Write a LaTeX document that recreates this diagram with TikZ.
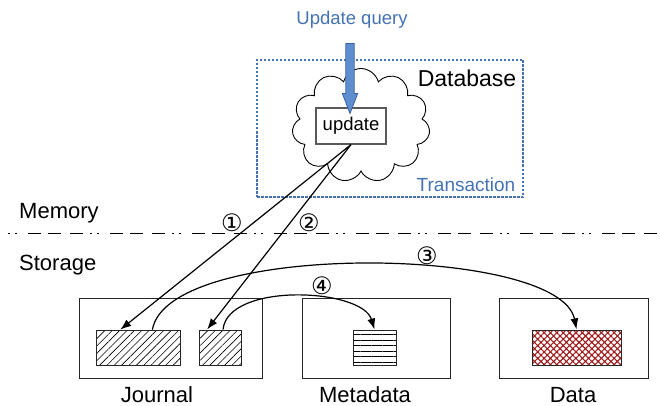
\documentclass[tikz,border=0pt]{standalone}
\usepackage{fontspec}
\setmainfont{Liberation Sans}
\newfontfamily\circfont{DejaVu Sans}
\usetikzlibrary{shapes.symbols, shapes.arrows, patterns.meta, arrows.meta, calc}
\definecolor{qblue}{RGB}{68,114,180}
\definecolor{afill}{RGB}{94,142,208}
\definecolor{aedge}{RGB}{58,98,158}
\definecolor{hred}{RGB}{160,28,28}
\tikzset{
  box/.style={draw=black!85, line width=1pt, inner sep=0pt},
  inbox/.style={box, minimum height=35pt},
  lbl/.style={font=\fontsize{22}{26}\selectfont, anchor=base, inner sep=0pt},
  num/.style={font=\circfont\fontsize{24}{28}\selectfont, inner sep=0pt},
  flow/.style={line width=1.2pt, -{Latex[length=11pt, width=8pt]}},
}

\begin{document}
\begin{tikzpicture}[x=1pt, y=-1pt]
                        \useasboundingbox (0,0) rectangle (660,406);
                        % Memory side:
                        \node[draw=qblue, dash pattern=on 2.5pt off 1.5pt, line width=1.3pt, minimum width=266pt, minimum height=137pt] (db) at (390,128.5) {};
                        \node[cloud, draw, line width=0.9pt, cloud puffs=11, aspect=1.2, minimum width=138pt, minimum height=114pt, inner sep=0pt] (cloud) at (361,125.5) {};
                        \node[font=\fontsize{23}{27}\selectfont] (dbl) at (467,78) {Database};
                        \node[font=\fontsize{19}{22}\selectfont, text=qblue] (tr) at (466,185) {Transaction};
                        \node[font=\fontsize{18.5}{22}\selectfont, text=qblue] (query) at (352,20) {Update query};
                        \node[draw=black!65, line width=1.2pt, fill=white, minimum width=70pt, minimum height=36pt, inner sep=0pt, font=\fontsize{18.5}{22}\selectfont] (upd) at (351,126) {update};
                        \node[single arrow, draw=aedge, fill=afill, line width=0.8pt, shape border rotate=270, minimum height=70pt, inner sep=3.8pt, single arrow head extend=3.5pt, single arrow tip angle=42] (qarrow) at (350,73) {};

                        % Separator:
                        \node[lbl, anchor=base west] (mem) at (19,218) {Memory};
                        \node[lbl, anchor=base west] (sto) at (19,270) {Storage};
                        \draw[line width=1pt, dash pattern=on 1.5pt off 5.5pt on 1.5pt off 11.5pt on 13pt off 7pt on 13pt off 9pt on 13pt off 7pt] (8,233) -- (660,233);

                        % Storage side:
                        \node[box, minimum width=183pt, minimum height=80pt] (jou) at (170.5,338) {};
                        \node[box, minimum width=148pt, minimum height=80pt] (met) at (376,338) {};
                        \node[box, minimum width=149pt, minimum height=80pt] (dat) at (573.5,338) {};
                        \node[inbox, minimum width=84pt, pattern={Lines[angle=45, distance=5.2pt, line width=0.6pt]}] (j1) at (138,347.5) {};
                        \node[inbox, minimum width=42pt, pattern={Lines[angle=45, distance=5.2pt, line width=0.6pt]}] (j2) at (220,347.5) {};
                        \node[inbox, minimum width=43pt, pattern={Lines[angle=0, distance=5.5pt, line width=0.9pt]}] (m1) at (374.5,347.5) {};
                        \node[inbox, minimum width=89pt, pattern={Hatch[angle=45, distance=4.5pt, line width=1.1pt]}, pattern color=hred] (d1) at (576.5,347.5) {};
                        \node[lbl] (jl) at (157,402) {Journal};
                        \node[lbl] (ml) at (365,402) {Metadata};
                        \node[lbl] (dl) at (573,402) {Data};

                        % Writes:
                        \draw[flow] (upd.south) -- ($(j1.north west)!0.29!(j1.north east)$);
                        \draw[flow] (upd.south) -- ($(j2.north west)!0.2!(j2.north east)$);
                        \draw[flow] ($(j1.north west)!0.67!(j1.north east)$) .. controls (168,240) and (560,245) .. (d1.north);
                        \draw[flow] ($(j2.north west)!0.57!(j2.north east)$) .. controls (228,282) and (362,288) .. (m1.north);
                        \node[num] (n1) at (232,223) {①};
                        \node[num] (n2) at (309,223) {②};
                        \node[num] (n3) at (427,256) {③};
                        \node[num] (n4) at (322,286) {④};
                    \end{tikzpicture}
\end{document}
